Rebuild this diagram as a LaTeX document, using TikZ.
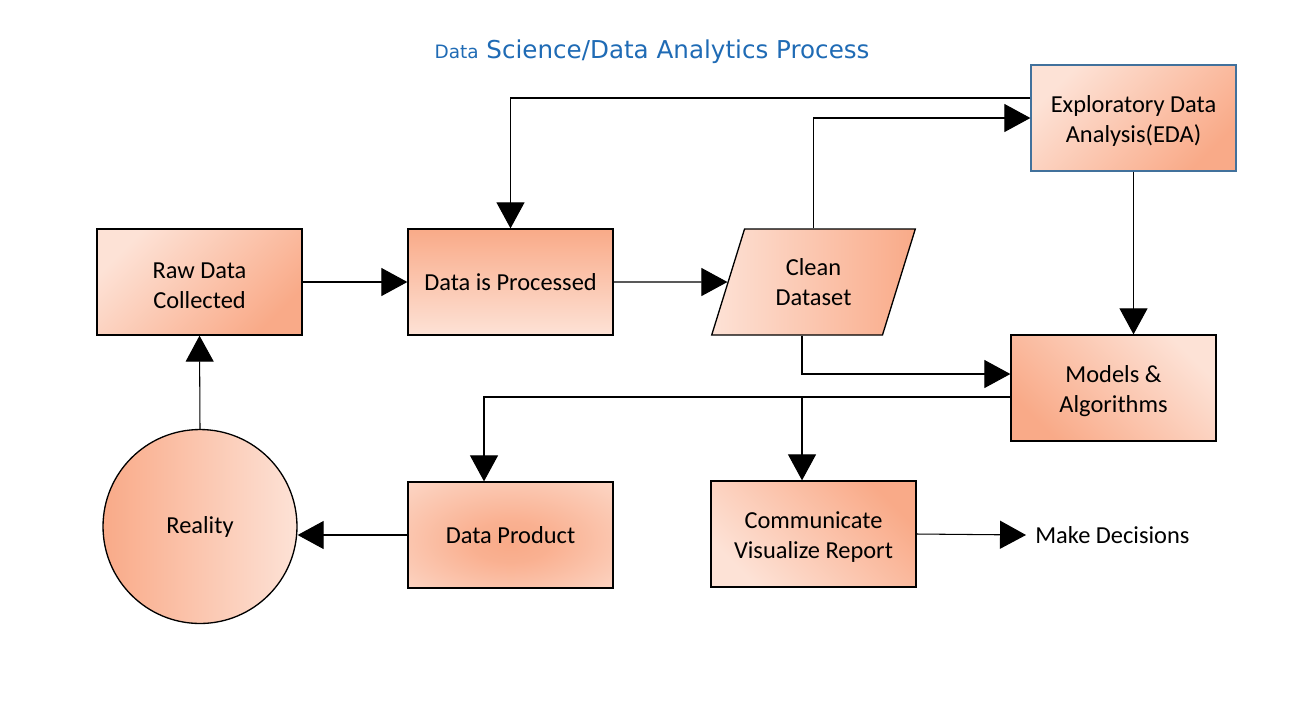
\documentclass[tikz,border=0pt]{standalone}
\usepackage{fontspec}
\setmainfont{Carlito}
\newfontfamily\titlefont{DejaVu Sans}
\usetikzlibrary{arrows.meta,shapes.geometric,calc}
\definecolor{dk}{RGB}{249,170,136}
\definecolor{lt}{RGB}{253,226,214}
\definecolor{ttl}{RGB}{31,107,181}
\definecolor{edab}{RGB}{65,113,156}
\pgfdeclareradialshading{prodrad}{\pgfpoint{0bp}{-4bp}}{color(0bp)=(dk); color(10bp)=(dk!88!lt); color(45bp)=(lt); color(50bp)=(lt)}
\begin{document}
\begin{tikzpicture}[x=0.02cm,y=-0.02cm,
  box/.style={draw=black, line width=0.75pt, minimum width=4.1cm, minimum height=2.12cm,
    align=center, inner sep=0pt, font=\fontsize{13.9}{17}\selectfont},
  arr/.style={draw=black, line width=0.6pt, -{Triangle[length=0.52cm,width=0.56cm]}},
  lbl/.style={font=\fontsize{13.9}{17}\selectfont, inner sep=0pt}
]
\useasboundingbox (0,0) rectangle (1297,721);
\fill[white] (0,0) rectangle (1297,721);

% title
\node[text=ttl, font=\titlefont\fontsize{14}{17}\selectfont, anchor=base] (title) at (652,58)
  {{\fontsize{10.5}{12}\selectfont Data} Science/Data Analytics Process};

% nodes
\node[box, top color=lt, bottom color=dk, shading angle=45] (raw) at (199.5,282) {\rule{0pt}{13pt}Raw Data\\Collected};
\node[box, top color=dk, bottom color=lt] (proc) at (510.5,282) {Data is Processed};
\node[box, trapezium, trapezium left angle=69, trapezium right angle=111, trapezium stretches=true,
      left color=lt, right color=dk] (clean) at (813.5,282) {Clean\\Dataset};
\node[box, draw=edab, top color=lt, bottom color=dk, shading angle=45] (eda) at (1133.5,118) {\rule{0pt}{13pt}Exploratory Data\\Analysis(EDA)};
\node[box, top color=lt, bottom color=dk, shading angle=-45] (models) at (1113.5,388) {\rule{0pt}{13pt}Models \&\\Algorithms};
\node[box, shading=prodrad] (prod) at (510.5,535) {Data Product};
\node[box, top color=dk, bottom color=lt, shading angle=-45] (comm) at (813.5,534) {\rule{0pt}{13pt}Communicate\\Visualize Report};
\node[box, circle, minimum size=3.88cm, left color=dk, right color=lt] (reality) at (200,526.5) {Reality};
\node[lbl, anchor=west, inner xsep=0.18cm] (dec) at (1026,535) {Make Decisions};

% helper coordinates
\coordinate (mout) at ([yshift=-0.18cm]models.west);
\coordinate (cbot) at ([xshift=-0.23cm]clean.south);

% connectors
\draw[arr] (raw.east) -- (proc.west);
\draw[arr] (proc.east) -- (clean.west);
\draw[arr] (clean.north) |- (eda.west);
\draw[arr] ([yshift=0.4cm]eda.west) -| (proc.north);
\draw[arr] (eda.south) -- (eda.south |- models.north);
\draw[arr] (cbot) |- ([yshift=0.28cm]models.west);
\draw[arr] (mout) -| ([xshift=-0.53cm]prod.north);
\draw[arr] (cbot |- mout) -- (cbot |- comm.north);
\draw[arr] (prod.west) -- (prod.west -| reality.east);
\draw[arr] (reality.north) -- (raw.south);
\draw[arr] (comm.east) -- (dec.west);
\end{tikzpicture}
\end{document}
